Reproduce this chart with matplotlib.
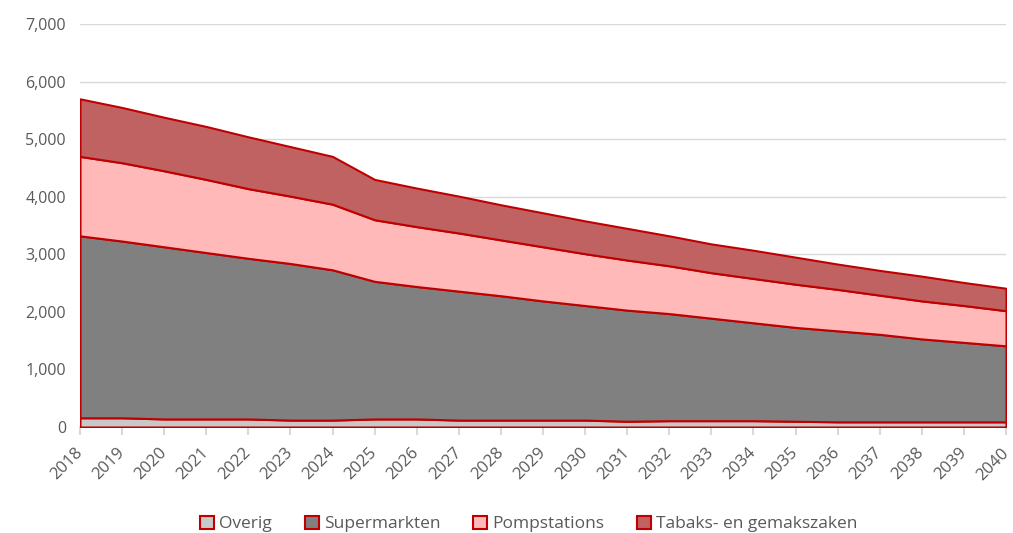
import numpy as np
import matplotlib.pyplot as plt
from matplotlib.patches import Patch
from matplotlib.ticker import FuncFormatter

years = list(range(2018, 2041))
overig = [160, 160, 140, 140, 140, 120, 120, 140, 140, 120, 120, 120,
          120, 100, 110, 110, 110, 100, 90, 90, 90, 90, 90]
supermarkten = [3160, 3070, 2990, 2890, 2790, 2720, 2610, 2390, 2300, 2240, 2160, 2070,
                1990, 1930, 1860, 1780, 1700, 1630, 1580, 1520, 1440, 1380, 1320]
pompstations = [1380, 1360, 1320, 1270, 1210, 1170, 1140, 1070, 1040, 1010, 970, 940,
                900, 870, 830, 790, 770, 750, 720, 680, 660, 640, 610]
tabaks = [1000, 960, 930, 920, 900, 860, 830, 700, 670, 640, 610, 590,
          570, 550, 520, 500, 490, 470, 440, 430, 430, 400, 390]
labels = ["Overig", "Supermarkten", "Pompstations", "Tabaks- en gemakszaken"]
colors = ["#c8c8c8", "#808080", "#ffb9b9", "#c06262"]
edge = "#c00000"
text_col = "#595959"

plt.rcParams['font.family'] = ['Open Sans', 'DejaVu Sans']

fig = plt.figure(figsize=(10.13, 5.33), dpi=100)
ax = fig.add_axes([80 / 1013, 1 - 427 / 533, 926 / 1013, 403 / 533])

series = [overig, supermarkten, pompstations, tabaks]
ax.stackplot(years, *series, colors=colors, edgecolor=edge, linewidth=1.5, zorder=3)

ax.set_xlim(2018, 2040)
ax.set_ylim(0, 7000)
ax.set_yticks(np.arange(0, 7001, 1000))
ax.yaxis.set_major_formatter(FuncFormatter(lambda v, p: f"{int(v):,}"))
ax.set_xticks(years)
ax.set_xticklabels([str(y) for y in years], rotation=45, ha="right", va="center",
                   rotation_mode="anchor")

ax.grid(axis="y", color="#d9d9d9", linewidth=1, zorder=0)
ax.set_axisbelow(True)
for s in ["top", "right", "left"]:
    ax.spines[s].set_visible(False)
ax.spines["bottom"].set_color("#d9d9d9")
ax.spines["bottom"].set_linewidth(1.5)
ax.tick_params(axis="y", length=0, labelsize=11.5, labelcolor=text_col, pad=10)
ax.tick_params(axis="x", length=6, width=1.5, color="#d9d9d9", labelsize=12,
               labelcolor=text_col, pad=11)

handles = [Patch(facecolor=c, edgecolor=edge, linewidth=1.5) for c in colors]
fig.legend(handles, labels, loc="center", bbox_to_anchor=(0.522, 1 - 524 / 533), ncol=4,
           frameon=False, fontsize=12.5, labelcolor=text_col, handlelength=0.8,
           handleheight=0.8, handletextpad=0.3, columnspacing=1.9)

fig.savefig("out.png", dpi=100)
